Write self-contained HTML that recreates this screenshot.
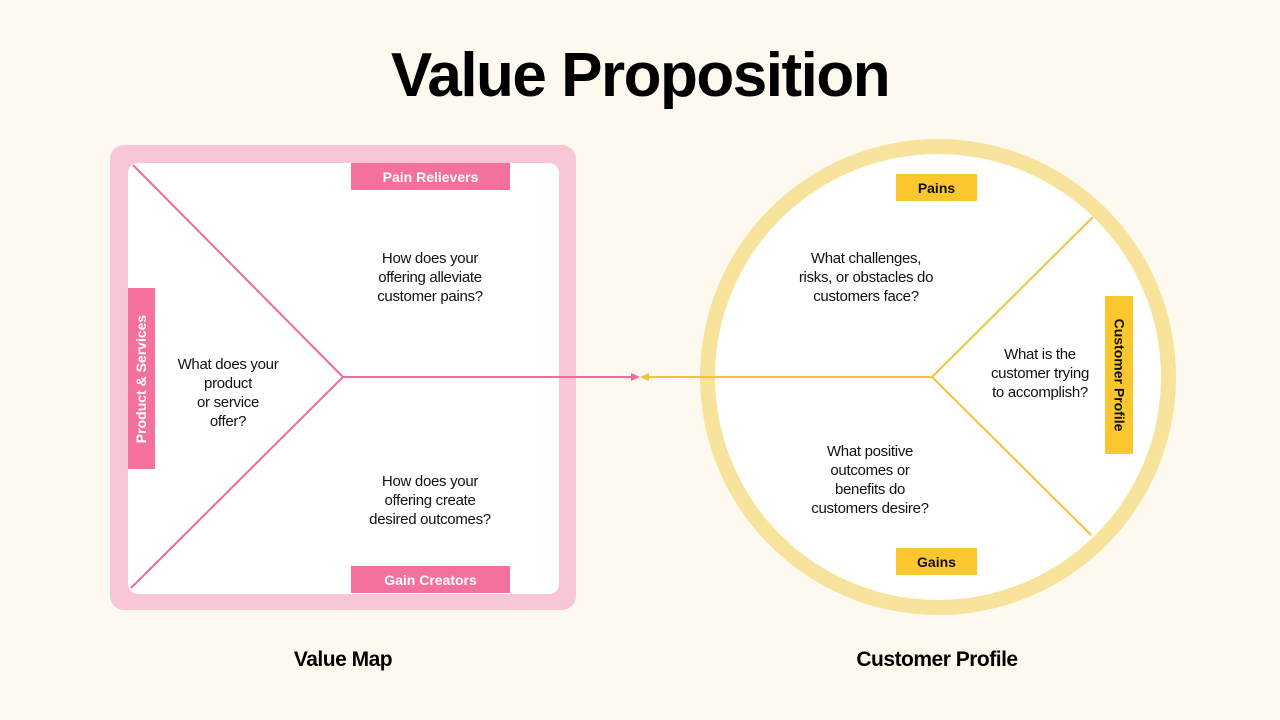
<!DOCTYPE html>
<html><head><meta charset="utf-8"><style>
body{margin:0;width:1280px;height:720px;background:#fdf9ef;font-family:"Liberation Sans",sans-serif;overflow:hidden;position:relative}
.a{position:absolute}
.t{position:absolute;text-align:center;font-size:15px;line-height:19px;color:#111;letter-spacing:-0.3px}
.lab{position:absolute;display:flex;align-items:center;justify-content:center;font-weight:bold;font-size:14px}
</style></head><body>
<div class="a" style="left:0;top:40px;width:1280px;text-align:center;font-size:62px;font-weight:bold;letter-spacing:-1.5px;color:#000">Value Proposition</div>
<div class="a" style="left:110px;top:145px;width:466px;height:465px;background:#f9c6d8;border-radius:14px"></div>
<div class="a" style="left:128px;top:163px;width:431px;height:431px;background:#fff;border-radius:10px"></div>
<div class="a" style="left:700px;top:139px;width:476px;height:476px;border-radius:50%;background:#f7e39c"></div>
<div class="a" style="left:715px;top:154px;width:446px;height:446px;border-radius:50%;background:#fff"></div>
<svg class="a" style="left:0;top:0" width="1280" height="720">
<g stroke="#f06a9b" stroke-width="2" fill="none">
<polyline points="133,165 343,377 131,588"/>
<line x1="343" y1="377" x2="632" y2="377"/>
</g>
<polygon points="640,377 631,373 631,381" fill="#f06a9b"/>
<g stroke="#f5c33b" stroke-width="2" fill="none">
<line x1="648" y1="377" x2="932" y2="377"/>
<line x1="932" y1="377" x2="1093" y2="217"/>
<line x1="932" y1="377" x2="1091" y2="535"/>
</g>
<polygon points="640,377 649,373 649,381" fill="#f5c33b"/>
</svg>
<div class="lab" style="left:351px;top:163px;width:159px;height:27px;background:#f4719e;color:#fff">Pain Relievers</div>
<div class="lab" style="left:351px;top:566px;width:159px;height:27px;background:#f4719e;color:#fff">Gain Creators</div>
<div class="lab" style="left:128px;top:288px;width:27px;height:181px;background:#f4719e;color:#fff"><span style="transform:rotate(-90deg);white-space:nowrap">Product &amp; Services</span></div>
<div class="lab" style="left:896px;top:174px;width:81px;height:27px;background:#fbc72e;color:#111">Pains</div>
<div class="lab" style="left:896px;top:548px;width:81px;height:27px;background:#fbc72e;color:#111">Gains</div>
<div class="lab" style="left:1105px;top:296px;width:28px;height:158px;background:#fbc72e;color:#111"><span style="transform:rotate(90deg);white-space:nowrap">Customer Profile</span></div>
<div class="t" style="left:330px;top:249px;width:200px">How does your<br>offering alleviate<br>customer pains?</div>
<div class="t" style="left:330px;top:472px;width:200px">How does your<br>offering create<br>desired outcomes?</div>
<div class="t" style="left:148px;top:355px;width:160px">What does your<br>product<br>or service<br>offer?</div>
<div class="t" style="left:766px;top:249px;width:200px">What challenges,<br>risks, or obstacles do<br>customers face?</div>
<div class="t" style="left:770px;top:442px;width:200px">What positive<br>outcomes or<br>benefits do<br>customers desire?</div>
<div class="t" style="left:970px;top:345px;width:140px">What is the<br>customer trying<br>to accomplish?</div>
<div class="a" style="left:243px;top:648px;width:200px;text-align:center;font-weight:bold;font-size:21px;letter-spacing:-0.5px">Value Map</div>
<div class="a" style="left:812px;top:648px;width:250px;text-align:center;font-weight:bold;font-size:21px;letter-spacing:-0.5px">Customer Profile</div>
</body></html>
